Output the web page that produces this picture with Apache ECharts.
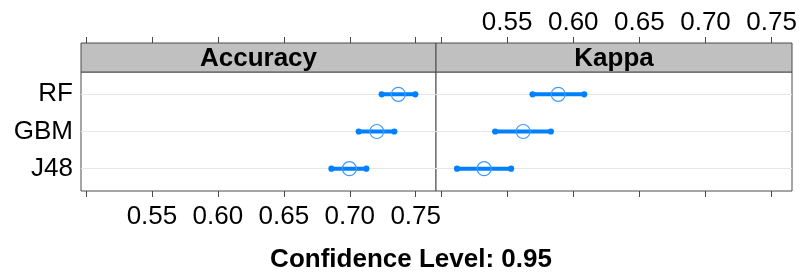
<!DOCTYPE html>
<html>
<head>
<meta charset="utf-8">
<script src="https://cdn.jsdelivr.net/npm/echarts@6/dist/echarts.min.js"></script>
<style>html,body{margin:0;padding:0;background:#fff}#c{width:801px;height:272px}</style>
</head>
<body>
<div id="c"></div>
<script>
// ---- data ----
const categories = ['RF', 'GBM', 'J48'];
const panels = ['Accuracy', 'Kappa'];
const accCenter = [0.7368, 0.7205, 0.6997];
const accLower  = [0.7242, 0.7068, 0.6861];
const accUpper  = [0.7497, 0.7338, 0.7126];
const kapCenter = [0.5886, 0.5621, 0.5326];
const kapLower  = [0.5692, 0.5409, 0.5121];
const kapUpper  = [0.6083, 0.5831, 0.5530];
const tickValues  = [0.50, 0.55, 0.60, 0.65, 0.70, 0.75];
const labelValues = [0.55, 0.60, 0.65, 0.70, 0.75];
const title = 'Confidence Level: 0.95';

// ---- layout ----
const X_MIN = 0.4962, X_MAX = 0.7654;
const BODY_TOP = 72, BODY_H = 119, STRIP_H = 29;
const G = [{left: 81, width: 355}, {left: 436, width: 356}];
const FONT = '"Liberation Sans", Arial, sans-serif';
const BORDER = '#4a4a4a';
const BLUE = '#0080ff';

const chart = echarts.init(document.getElementById('c'), null, {renderer: 'canvas'});

const grids = G.map(g => ({left: g.left, top: BODY_TOP, width: g.width, height: BODY_H,
  show: true, borderColor: BORDER, borderWidth: 1, backgroundColor: '#fff', containLabel: false}));

function xAx(gi, pos, showLabel) {
  return {
    type: 'value', gridIndex: gi, position: pos, min: X_MIN, max: X_MAX,
    offset: pos === 'top' ? STRIP_H : 0,
    axisLine: {show: false, onZero: false},
    splitLine: {show: false},
    axisTick: {show: true, length: 6, customValues: tickValues, lineStyle: {color: BORDER, width: 1}},
    axisLabel: {show: showLabel, customValues: labelValues, fontSize: 26, fontFamily: FONT, color: '#000',
      margin: pos === 'top' ? 7 : 13, formatter: v => v.toFixed(2)}
  };
}
function yAx(gi, showLabel) {
  return {
    type: 'value', gridIndex: gi, inverse: true, min: -0.6, max: 2.6,
    axisLine: {show: false, onZero: false}, axisTick: {show: false}, splitLine: {show: false},
    axisLabel: {show: showLabel, customValues: [0, 1, 2], fontSize: 26, fontFamily: FONT, color: '#000',
      margin: 8, formatter: v => categories[Math.round(v)]}
  };
}

const xAxes = [xAx(0, 'bottom', true), xAx(0, 'top', false), xAx(1, 'top', true), xAx(1, 'bottom', false)];
const yAxes = [yAx(0, true), yAx(1, false)];

function renderBar(params, api) {
  const y = api.value(0), lo = api.value(1), hi = api.value(2);
  const p1 = api.coord([lo, y]), p2 = api.coord([hi, y]);
  return {type: 'group', children: [
    {type: 'line', shape: {x1: p1[0], y1: p1[1], x2: p2[0], y2: p2[1]},
      style: {stroke: BLUE, lineWidth: 4, fill: null}},
    {type: 'circle', shape: {cx: p1[0], cy: p1[1], r: 3.1}, style: {fill: BLUE, stroke: null}},
    {type: 'circle', shape: {cx: p2[0], cy: p2[1], r: 3.1}, style: {fill: BLUE, stroke: null}}
  ]};
}

const series = [];
[[accCenter, accLower, accUpper, 0], [kapCenter, kapLower, kapUpper, 2]].forEach(([c, lo, hi, xi], gi) => {
  series.push({
    type: 'line', xAxisIndex: xi, yAxisIndex: gi, data: [], z: 1, silent: true,
    markLine: {z: 1, silent: true, symbol: 'none', label: {show: false},
      lineStyle: {color: '#e6e6e6', width: 1, type: 'solid'},
      data: categories.map((_, i) => ({yAxis: i}))}
  });
  series.push({
    type: 'custom', xAxisIndex: xi, yAxisIndex: gi, z: 3, renderItem: renderBar, silent: true,
    encode: {x: [1, 2], y: 0},
    data: categories.map((_, i) => [i, lo[i], hi[i]])
  });
  series.push({
    type: 'scatter', xAxisIndex: xi, yAxisIndex: gi, z: 4, symbol: 'circle', symbolSize: 14,
    itemStyle: {color: 'rgba(255,255,255,0)', borderColor: '#3d9bff', borderWidth: 1.2, opacity: 1},
    data: categories.map((_, i) => [c[i], i])
  });
});

const graphics = [];
G.forEach((g, i) => {
  graphics.push({type: 'rect', z: 10, shape: {x: g.left, y: BODY_TOP - STRIP_H, width: g.width, height: STRIP_H},
    style: {fill: '#c0c0c0', stroke: BORDER, lineWidth: 1}});
  graphics.push({type: 'text', z: 11, x: g.left + g.width / 2, y: BODY_TOP - STRIP_H / 2 + 1,
    style: {text: panels[i], font: 'bold 26px ' + FONT, fill: '#000', align: 'center', verticalAlign: 'middle'}});
});

chart.setOption({
  animation: false,
  backgroundColor: '#fff',
  title: {text: title, left: 406, top: 242, textAlign: 'center',
    textStyle: {fontSize: 26, fontWeight: 'bold', fontFamily: FONT, color: '#000'}},
  grid: grids,
  xAxis: xAxes,
  yAxis: yAxes,
  series: series,
  graphic: graphics
});
</script>
</body>
</html>
